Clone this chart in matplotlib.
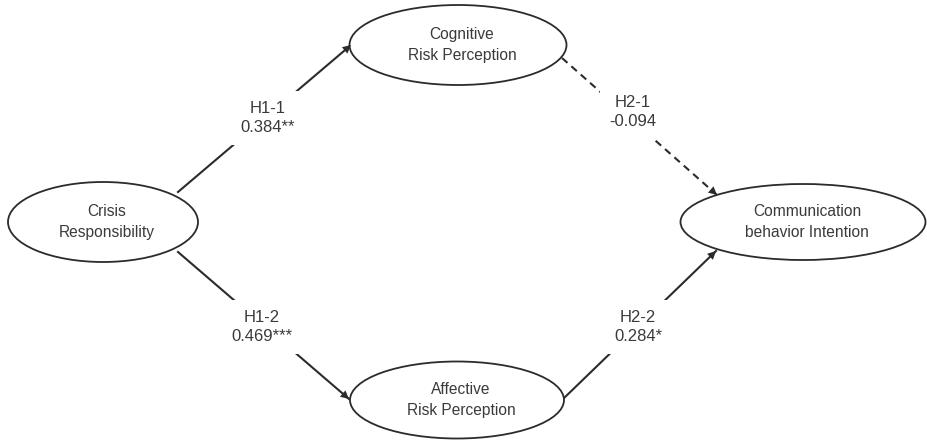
"""Path model diagram: crisis responsibility -> risk perception -> communication intention."""

import matplotlib
matplotlib.use("Agg")
import matplotlib.pyplot as plt
from matplotlib.patches import Ellipse

# Constructs (nodes) of the model.
node_labels = [
    "Crisis\nResponsibility",
    "Cognitive\nRisk Perception",
    "Affective\nRisk Perception",
    "Communication\nbehavior Intention",
]

# Hypothesised paths: (source, target), name, coefficient, significance.
path_links = [(0, 1), (0, 2), (1, 3), (2, 3)]
path_names = ["H1-1", "H1-2", "H2-1", "H2-2"]
path_coefs = [0.384, 0.469, -0.094, 0.284]
path_stars = ["**", "***", "", "*"]
path_significant = [True, True, False, True]

# Layout in pixel coordinates (y grows downward).
NODE_XY = [(103, 222), (458, 45), (457, 400), (803, 222)]
NODE_WH = [(190, 80), (217, 80), (214, 77), (245, 76)]
EDGE_XY = [((178, 192), (351, 45)), ((178, 252), (349, 399)),
           ((562, 58), (717, 195)), ((562, 400), (716, 251))]
LABEL_XY = [(268, 118), (262, 327), (633, 112), (638, 327)]

INK = "#2b2b2b"
TXT = "#3a3a3a"

plt.rcParams["font.family"] = ["Liberation Sans", "DejaVu Sans"]

fig = plt.figure(figsize=(9.27, 4.4), dpi=100)
ax = fig.add_axes([0, 0, 1, 1])
ax.set_xlim(0, 927)
ax.set_ylim(440, 0)
ax.axis("off")

for label, (cx, cy), (w, h) in zip(node_labels, NODE_XY, NODE_WH):
    ax.add_patch(Ellipse((cx, cy), w, h, facecolor="white", edgecolor=INK,
                         linewidth=1.3, zorder=2))
    ax.text(cx + 4, cy, label, ha="center", va="center", fontsize=11.2,
            color=TXT, linespacing=1.55, zorder=3)

for (p0, p1), sig in zip(EDGE_XY, path_significant):
    ls = "-" if sig else (0, (3.5, 2.5))
    ax.plot([p0[0], p1[0]], [p0[1], p1[1]], color=INK, linewidth=1.5,
            linestyle=ls, zorder=1)
    # short solid segment for the arrow head
    fx = p1[0] - (p1[0] - p0[0]) * 0.06
    fy = p1[1] - (p1[1] - p0[1]) * 0.06
    ax.annotate("", xy=p1, xytext=(fx, fy),
                arrowprops=dict(arrowstyle="-|>", color=INK, lw=0.01,
                                mutation_scale=15, shrinkA=0, shrinkB=0),
                zorder=4)

for name, coef, stars, (lx, ly) in zip(path_names, path_coefs, path_stars, LABEL_XY):
    ax.text(lx, ly, f"{name}\n{coef:.3f}{stars}", ha="center", va="center",
            fontsize=12, color=TXT, linespacing=1.38, zorder=3,
            bbox=dict(facecolor="white", edgecolor="none", pad=7))

fig.savefig("out.png", dpi=100)
